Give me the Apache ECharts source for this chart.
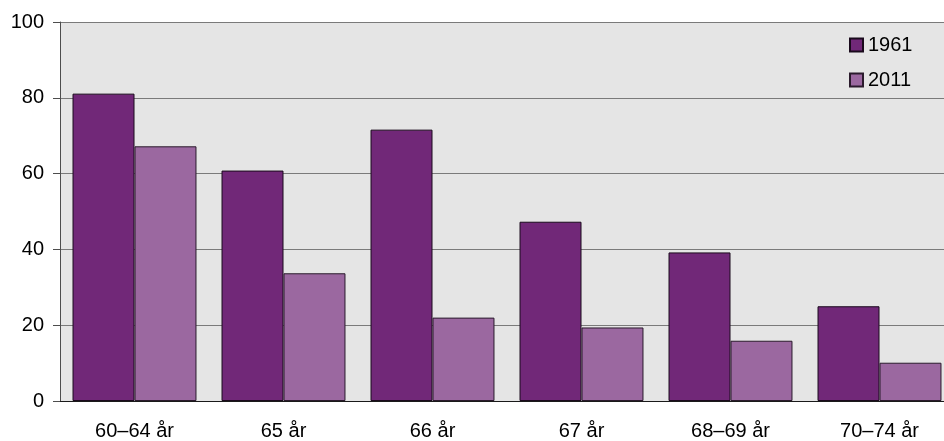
<!DOCTYPE html>
<html><head><meta charset="utf-8">
<script src="https://cdn.jsdelivr.net/npm/echarts@6/dist/echarts.min.js"></script>
<style>html,body{margin:0;padding:0;background:#fff;overflow:hidden;width:944px;height:441px}#c{width:954px;height:441px}</style>
</head><body><div id="c"></div>
<script>
var categories = ["60–64 år", "65 år", "66 år", "67 år", "68–69 år", "70–74 år"];
var series1961 = [81.1, 60.8, 71.6, 47.3, 39.2, 25.0];
var series2011 = [67.2, 33.7, 22.0, 19.4, 15.9, 10.1];
var yTicks = [0, 20, 40, 60, 80, 100];

var chart = echarts.init(document.getElementById('c'), null, {renderer: 'canvas'});
var font = 'Liberation Sans, Arial, sans-serif';
chart.setOption({
  animation: false,
  backgroundColor: '#ffffff',
  grid: {left: 60, top: 22, right: 0, bottom: 39, containLabel: false,
         show: true, backgroundColor: '#e5e5e5', borderWidth: 0},
  legend: {
    orient: 'vertical', left: 849, top: 35, padding: 0,
    itemWidth: 13, itemHeight: 13, itemGap: 15,
    icon: 'rect',
    textStyle: {fontFamily: font, fontSize: 20, color: '#000', padding: [0,0,0,0]},
    data: ['1961', '2011']
  },
  xAxis: {
    type: 'category', data: categories,
    axisLine: {show: true, lineStyle: {color: '#1a1a1a', width: 1}},
    axisTick: {show: false},
    axisLabel: {fontFamily: font, fontSize: 20, color: '#000', margin: 20, interval: 0},
    splitLine: {show: false}
  },
  yAxis: {
    type: 'value', min: yTicks[0], max: yTicks[yTicks.length-1], interval: 20,
    axisLine: {show: true, lineStyle: {color: '#4d4d4d', width: 1}},
    axisTick: {show: true, length: 7, lineStyle: {color: '#4d4d4d'}},
    axisLabel: {fontFamily: font, fontSize: 20, color: '#000', margin: 16},
    splitLine: {show: true, lineStyle: {color: '#7a7a7a', width: 1}}
  },
  series: [
    {name: '1961', type: 'bar', data: series1961, barGap: '0%', barCategoryGap: '16.8%',
     itemStyle: {color: '#712878', borderColor: '#1a0a1c', borderWidth: 1}},
    {name: '2011', type: 'bar', data: series2011,
     itemStyle: {color: '#9b68a0', borderColor: '#2a1a2c', borderWidth: 1}}
  ]
});
</script></body></html>
